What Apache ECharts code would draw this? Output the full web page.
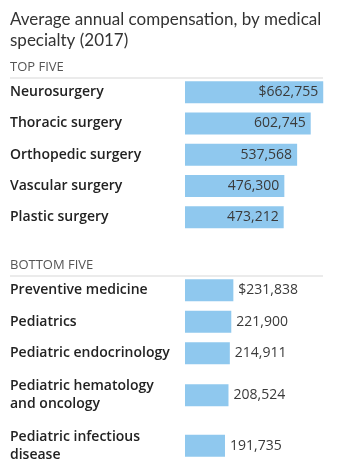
<!DOCTYPE html>
<html><head><meta charset="utf-8">
<script src="https://cdn.jsdelivr.net/npm/echarts@6/dist/echarts.min.js"></script>
<style>html,body{margin:0;padding:0;background:#fff}#c{width:359px;height:471px}</style>
</head><body><div id="c"></div>
<script>
const topCategories = ['Neurosurgery','Thoracic surgery','Orthopedic surgery','Vascular surgery','Plastic surgery'];
const topValues = [662755, 602745, 537568, 476300, 473212];
const bottomCategories = ['Preventive medicine','Pediatrics','Pediatric endocrinology','Pediatric hematology\nand oncology','Pediatric infectious\ndisease'];
const bottomValues = [231838, 221900, 214911, 208524, 191735];

const BAR = '#8fc8ee';
const LEFT = 185, WIDTH = 146, XMAX = 700000;
const labelFont = {fontFamily:'Open Sans', fontSize:14, fontWeight:600, color:'#222', lineHeight:18};
const valFont = {fontFamily:'Open Sans', fontSize:14, color:'#3a3a3a'};
function fmt(v, i){ return (i===0?'$':'') + v.toLocaleString('en-US'); }

const groups = [
  {cats: topCategories, vals: topValues, start:0, n:5, top:76.6, h:156.25, inside:true},
  {cats: bottomCategories, vals: bottomValues, start:0, n:3, top:274.5, h:94.5, inside:false},
  {cats: bottomCategories, vals: bottomValues, start:3, n:2, top:370, h:104, inside:false}
];
const grid=[], xAxis=[], yAxis=[], series=[];
groups.forEach((g, k) => {
  grid.push({left:LEFT, width:WIDTH, top:g.top, height:g.h});
  xAxis.push({type:'value', gridIndex:k, min:0, max:XMAX, show:false});
  yAxis.push({type:'category', gridIndex:k, inverse:true, data:g.cats.slice(g.start, g.start+g.n),
    axisLine:{show:false}, axisTick:{show:false}, splitLine:{show:false},
    axisLabel:Object.assign({align:'left', margin:175}, labelFont)});
  series.push({type:'bar', xAxisIndex:k, yAxisIndex:k, barWidth:22, silent:true,
    itemStyle:{color:BAR},
    data:g.vals.slice(g.start, g.start+g.n).map((v,i)=>({value:v, idx:g.start+i})),
    label:Object.assign({show:true, position: g.inside?'insideRight':'right', distance:5,
      formatter:p=>fmt(p.value, p.data.idx)}, valFont)});
});

const chart = echarts.init(document.getElementById('c'), null, {renderer:'canvas'});
chart.setOption({
  animation:false,
  title:{text:'Average annual compensation, by medical\nspecialty (2017)', left:10, top:9, padding:0,
    textStyle:{fontFamily:'Lato', fontSize:17, fontWeight:'normal', color:'#333', lineHeight:21}},
  graphic:[
    {type:'text', left:10, top:61, style:{text:'TOP FIVE', fontFamily:'Open Sans', fontSize:13, fill:'#555'}},
    {type:'rect', shape:{x:10, y:77, width:313, height:2}, style:{fill:'#ebebeb'}},
    {type:'text', left:10, top:259, style:{text:'BOTTOM FIVE', fontFamily:'Open Sans', fontSize:13, fill:'#555'}},
    {type:'rect', shape:{x:10, y:275, width:313, height:2}, style:{fill:'#ebebeb'}}
  ],
  grid, xAxis, yAxis, series
});
</script></body></html>
